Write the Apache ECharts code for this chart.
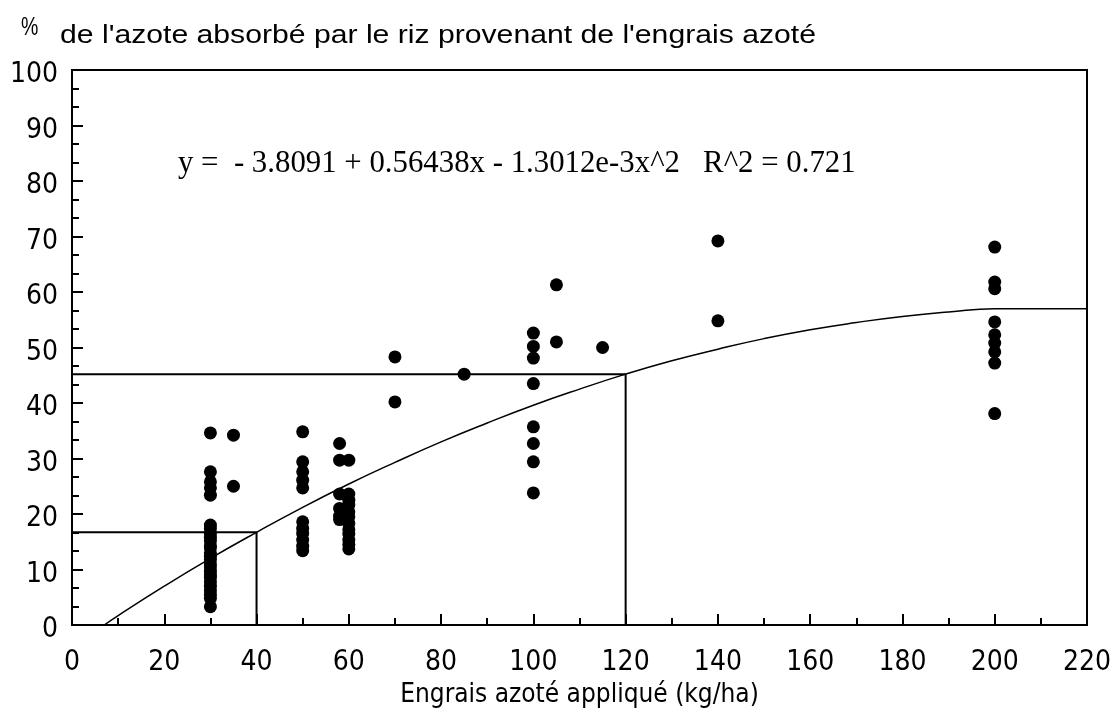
<!DOCTYPE html>
<html>
<head>
<meta charset="utf-8">
<script src="https://cdn.jsdelivr.net/npm/echarts@6/dist/echarts.min.js"></script>
<style>html,body{margin:0;padding:0;background:#fff;}#c{width:1110px;height:711px;}</style>
</head>
<body>
<div id="c"></div>
<script>
// --- data ---
const xName = "Engrais azoté appliqué (kg/ha)";
const yTitlePct = "%";
const yTitle = "de l'azote absorbé par le riz provenant de l'engrais azoté";
const equation = "y =  - 3.8091 + 0.56438x - 1.3012e-3x^2   R^2 = 0.721";

const pts30  = [34.6, 27.6, 25.8, 24.7, 23.4, 18.0, 17.4, 16.5, 15.8, 15.2, 14.3, 13.9, 13.0, 12.4, 11.8, 11.0, 10.5, 9.7, 9.0, 8.6, 7.8, 7.0, 6.2, 5.5, 4.8, 3.3];
const pts35  = [34.2, 25.0];
const pts50  = [34.8, 29.4, 27.6, 26.1, 24.7, 18.6, 17.4, 16.5, 15.3, 14.2, 13.4];
const pts58  = [32.7, 29.7, 23.6, 21.0, 19.6, 19.0];
const pts60  = [29.7, 23.6, 22.5, 21.6, 20.4, 19.5, 18.3, 17.2, 16.4, 15.3, 14.5, 13.7];
const pts70  = [48.3, 40.2];
const pts85  = [45.2];
const pts100 = [52.6, 50.2, 48.1, 43.5, 35.7, 32.7, 29.4, 23.8];
const pts105 = [61.3, 51.0];
const pts115 = [50.0];
const pts140 = [69.2, 54.8];
const pts200 = [68.1, 61.8, 60.6, 54.6, 52.3, 50.8, 49.2, 47.2, 38.1];

const groups = [[30, pts30], [35, pts35], [50, pts50], [58, pts58], [60, pts60], [70, pts70], [85, pts85],
                [100, pts100], [105, pts105], [115, pts115], [140, pts140], [200, pts200]];

// fitted curve
const curveX = [7, 10, 20, 30, 40, 50, 60, 70, 80, 90, 100, 110, 120, 130, 140, 150, 160, 170, 180, 190, 200, 220];
const curveY = [0, 1.7, 7.0, 12.0, 16.7, 21.2, 25.4, 29.3, 33.0, 36.4, 39.6, 42.5, 45.2, 47.6, 49.7, 51.6, 53.2, 54.5, 55.6, 56.4, 57.0, 57.0];

// guide lines (x, y)
const guide1 = [[0, 16.7], [40, 16.7], [40, 0]];
const guide2 = [[0, 45.2], [120, 45.2], [120, 0]];

const xTicks = [0, 20, 40, 60, 80, 100, 120, 140, 160, 180, 200, 220];
const yTicks = [0, 10, 20, 30, 40, 50, 60, 70, 80, 90, 100];

// --- chart ---
const scatterData = [];
groups.forEach(g => g[1].forEach(v => scatterData.push([g[0], v])));
const curveData = curveX.map((x, i) => [x, curveY[i]]);

const tickFont = "'Liberation Sans Narrow', 'Arial Narrow', 'DejaVu Sans Condensed', sans-serif";
const chart = echarts.init(document.getElementById('c'), null, {renderer: 'canvas'});
chart.setOption({
  backgroundColor: '#ffffff',
  animation: false,
  grid: {left: 72, right: 23, top: 70, bottom: 86, outerBoundsMode: 'none', containLabel: false,
         show: true, borderColor: '#000', borderWidth: 2, backgroundColor: 'transparent'},
  xAxis: {
    type: 'value', min: xTicks[0], max: xTicks[xTicks.length - 1], interval: 20,
    name: xName, nameLocation: 'middle', nameGap: 57,
    nameTextStyle: {fontFamily: tickFont, fontSize: 26, color: '#000'},
    axisLine: {lineStyle: {color: '#000', width: 2}},
    axisTick: {inside: true, length: 11, lineStyle: {color: '#000', width: 2}},
    minorTick: {show: true, splitNumber: 2, length: 7, lineStyle: {color: '#000', width: 2}},
    axisLabel: {fontFamily: tickFont, fontSize: 28, color: '#000', margin: 24},
    splitLine: {show: false}
  },
  yAxis: {
    type: 'value', min: yTicks[0], max: yTicks[yTicks.length - 1], interval: 10,
    axisLine: {show: true, lineStyle: {color: '#000', width: 2}},
    axisTick: {show: true, inside: true, length: 11, lineStyle: {color: '#000', width: 2}},
    minorTick: {show: true, splitNumber: 3, length: 7, lineStyle: {color: '#000', width: 2}},
    axisLabel: {color: '#000', margin: 14, formatter: '{v|{value}}',
                rich: {v: {fontFamily: tickFont, fontSize: 28, color: '#000', padding: [10, 0, 0, 0]}}},
    splitLine: {show: false}
  },
  graphic: [
    {type: 'text', left: 21, top: 15, style: {text: yTitlePct, font: "26px 'Liberation Sans', sans-serif", fill: '#000'}, scaleX: 0.75},
    {type: 'text', left: 60, top: 23, scaleX: 1.16, style: {text: yTitle, font: "26px 'Liberation Sans', Arial, sans-serif", fill: '#000'}},
    {type: 'text', left: 178, top: 148, scaleX: 0.963, style: {text: equation, font: "32px 'Liberation Serif', serif", fill: '#000'}}
  ],
  series: [
    {type: 'line', data: guide1, symbol: 'none', lineStyle: {color: '#000', width: 2}, z: 2},
    {type: 'line', data: guide2, symbol: 'none', lineStyle: {color: '#000', width: 2}, z: 2},
    {type: 'line', data: curveData, symbol: 'none', smooth: true, lineStyle: {color: '#000', width: 1.5}, z: 2},
    {type: 'scatter', data: scatterData, symbol: 'circle', symbolSize: 13, itemStyle: {color: '#000', opacity: 1}, z: 3}
  ]
});
</script>
</body>
</html>
